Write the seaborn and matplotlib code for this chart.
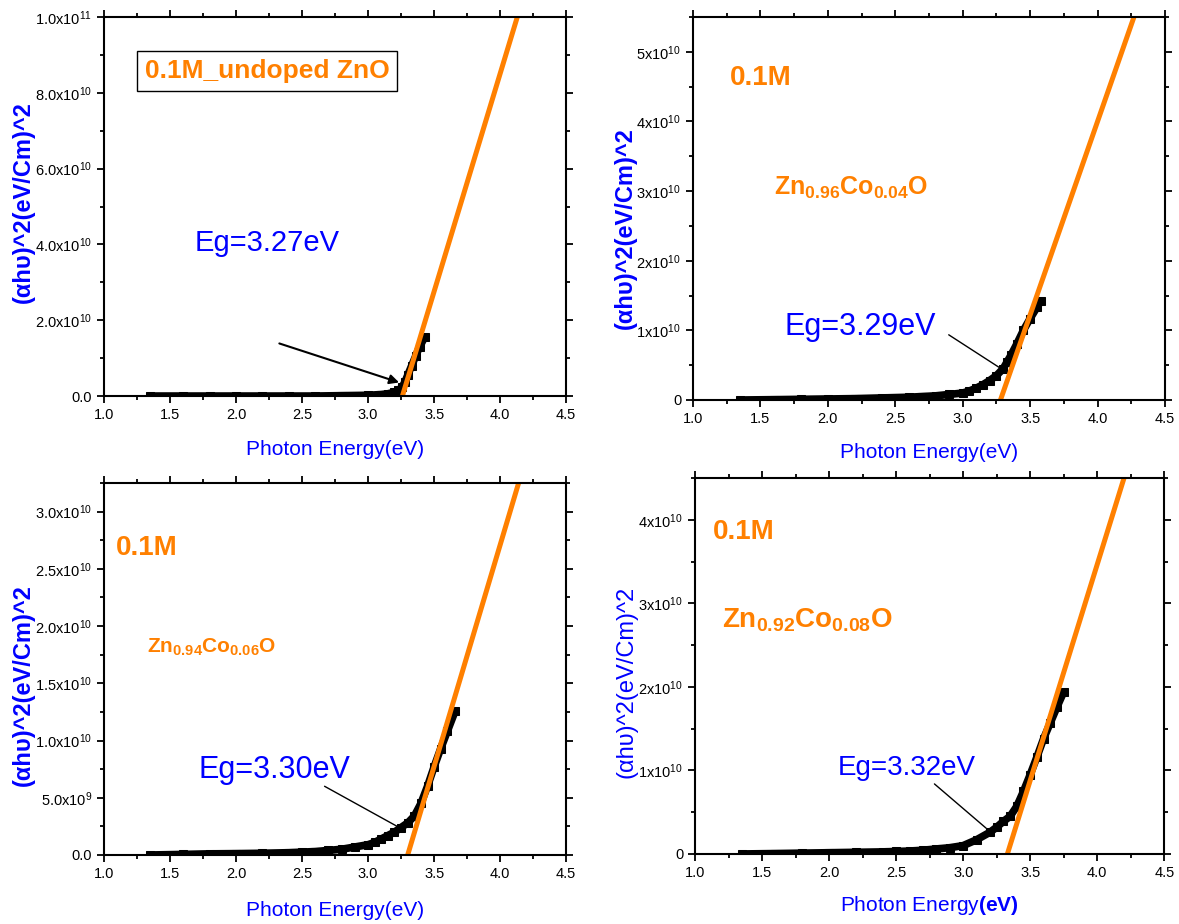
import numpy as np
import matplotlib
matplotlib.use('Agg')
import matplotlib.pyplot as plt
import seaborn as sns
from matplotlib.ticker import AutoMinorLocator

# ---- data (y in units of 1e10) ----
x_undoped = [1.35, 1.6, 1.8, 2.0, 2.2, 2.4, 2.6, 2.8, 3.0, 3.1, 3.15, 3.2, 3.23, 3.26, 3.28, 3.30, 3.33, 3.36, 3.39, 3.43]
y_undoped = [0.0, 0.0, 0.0, 0.0, 0.0, 0.0, 0.0, 0.01, 0.02, 0.04, 0.06, 0.1, 0.15, 0.25, 0.38, 0.55, 0.8, 1.05, 1.3, 1.56]

x_co04 = [1.35, 1.6, 1.8, 2.0, 2.2, 2.4, 2.6, 2.7, 2.8, 2.9, 3.0, 3.05, 3.1, 3.15, 3.2, 3.25, 3.3, 3.33, 3.36, 3.40, 3.45, 3.50, 3.55, 3.58]
y_co04 = [0.0, 0.005, 0.01, 0.015, 0.02, 0.03, 0.04, 0.05, 0.06, 0.08, 0.1, 0.13, 0.17, 0.22, 0.28, 0.35, 0.45, 0.55, 0.65, 0.8, 1.0, 1.17, 1.33, 1.42]

x_co06 = [1.35, 1.6, 1.8, 2.0, 2.2, 2.4, 2.5, 2.6, 2.7, 2.8, 2.9, 3.0, 3.05, 3.1, 3.15, 3.2, 3.25, 3.3, 3.35, 3.4, 3.45, 3.5, 3.55, 3.6, 3.66]
y_co06 = [0.0, 0.005, 0.01, 0.012, 0.015, 0.02, 0.025, 0.03, 0.04, 0.05, 0.07, 0.09, 0.11, 0.14, 0.17, 0.2, 0.24, 0.28, 0.34, 0.45, 0.6, 0.77, 0.93, 1.08, 1.26]

x_co08 = [1.35, 1.6, 1.8, 2.0, 2.2, 2.4, 2.5, 2.6, 2.7, 2.8, 2.9, 3.0, 3.1, 3.2, 3.25, 3.3, 3.35, 3.4, 3.45, 3.5, 3.55, 3.6, 3.65, 3.7, 3.75]
y_co08 = [0.0, 0.005, 0.01, 0.015, 0.02, 0.025, 0.03, 0.035, 0.045, 0.06, 0.075, 0.1, 0.17, 0.26, 0.32, 0.39, 0.45, 0.57, 0.75, 0.95, 1.16, 1.38, 1.57, 1.76, 1.94]

# linear fits (Tauc extrapolation), endpoints
fit_x_undoped = [3.26, 4.13]
fit_y_undoped = [0.0, 10.0]
fit_x_co04 = [3.28, 4.27]
fit_y_co04 = [0.0, 5.5]
fit_x_co06 = [3.30, 4.14]
fit_y_co06 = [0.0, 3.25]
fit_x_co08 = [3.33, 4.20]
fit_y_co08 = [0.0, 4.5]

yticks_undoped = [0, 2, 4, 6, 8, 10]
ylabels_undoped = ['0.0', '2.0x10$^{10}$', '4.0x10$^{10}$', '6.0x10$^{10}$', '8.0x10$^{10}$', '1.0x10$^{11}$']
yticks_co04 = [0, 1, 2, 3, 4, 5]
ylabels_co04 = ['0', '1x10$^{10}$', '2x10$^{10}$', '3x10$^{10}$', '4x10$^{10}$', '5x10$^{10}$']
yticks_co06 = [0, 0.5, 1.0, 1.5, 2.0, 2.5, 3.0]
ylabels_co06 = ['0.0', '5.0x10$^{9}$', '1.0x10$^{10}$', '1.5x10$^{10}$', '2.0x10$^{10}$', '2.5x10$^{10}$', '3.0x10$^{10}$']
yticks_co08 = [0, 1, 2, 3, 4]
ylabels_co08 = ['0', '1x10$^{10}$', '2x10$^{10}$', '3x10$^{10}$', '4x10$^{10}$']

xticks = [1.0, 1.5, 2.0, 2.5, 3.0, 3.5, 4.0, 4.5]
xlabels = ['1.0', '1.5', '2.0', '2.5', '3.0', '3.5', '4.0', '4.5']

ORANGE = '#FF8000'
BLUE = '#0000FF'
SCALE = 1e10

sns.set_theme(style='ticks')
plt.rcParams['font.family'] = ['Liberation Sans', 'DejaVu Sans']
plt.rcParams['mathtext.fontset'] = 'custom'
plt.rcParams['mathtext.rm'] = 'Liberation Sans'
plt.rcParams['mathtext.it'] = 'Liberation Sans:italic'
plt.rcParams['mathtext.bf'] = 'Liberation Sans:bold'

fig = plt.figure(figsize=(11.79, 9.24), dpi=100)
ax1 = fig.add_axes([0.0882, 0.5714, 0.392, 0.4102])
ax2 = fig.add_axes([0.5878, 0.5671, 0.4003, 0.4145])
ax3 = fig.add_axes([0.0882, 0.0747, 0.392, 0.4026])
ax4 = fig.add_axes([0.5895, 0.0758, 0.398, 0.4069])


def draw_panel(ax, xs, ys, fx, fy, ymax, yticks, ylabels):
    sns.lineplot(x=xs, y=np.array(ys) * SCALE, ax=ax, color='black', lw=5.5,
                 marker='s', markersize=6, markeredgecolor='black', sort=False, estimator=None)
    sns.lineplot(x=fx, y=np.array(fy) * SCALE, ax=ax, color=ORANGE, lw=3.6, sort=False, estimator=None)
    ax.set_xlim(1.0, 4.5)
    ax.set_ylim(0, ymax * SCALE)
    ax.set_xticks(xticks)
    ax.set_xticklabels(xlabels)
    ax.set_yticks(np.array(yticks) * SCALE)
    ax.set_yticklabels(ylabels)
    ax.xaxis.set_minor_locator(AutoMinorLocator(2))
    ax.yaxis.set_minor_locator(AutoMinorLocator(2))
    ax.tick_params(axis='both', which='both', direction='out', top=True, right=True,
                   labelsize=10.5, colors='black', width=1.3)
    ax.tick_params(axis='both', which='major', length=5)
    ax.tick_params(axis='both', which='minor', length=3)
    for s in ax.spines.values():
        s.set_linewidth(1.5)
        s.set_color('black')
    ax.set_xlabel('Photon Energy(eV)', color=BLUE, fontsize=15)
    ax.xaxis.label.set_va('center')


draw_panel(ax1, x_undoped, y_undoped, fit_x_undoped, fit_y_undoped, 10.0, yticks_undoped, ylabels_undoped)
draw_panel(ax2, x_co04, y_co04, fit_x_co04, fit_y_co04, 5.5, yticks_co04, ylabels_co04)
draw_panel(ax3, x_co06, y_co06, fit_x_co06, fit_y_co06, 3.25, yticks_co06, ylabels_co06)
draw_panel(ax4, x_co08, y_co08, fit_x_co08, fit_y_co08, 4.5, yticks_co08, ylabels_co08)

ylab = '(\u03b1h\u03c5)^2(eV/Cm)^2'
ax1.set_ylabel(ylab, color=BLUE, fontsize=17, fontweight='bold')
ax2.set_ylabel(ylab, color=BLUE, fontsize=17, fontweight='bold')
ax3.set_ylabel(ylab, color=BLUE, fontsize=17, fontweight='bold')
ax4.set_ylabel(ylab, color=BLUE, fontsize=17)
for ax in (ax1, ax2, ax3, ax4):
    ax.yaxis.label.set_va('center')
ax1.yaxis.set_label_coords(-0.175, 0.512)
ax2.yaxis.set_label_coords(-0.144, 0.449)
ax3.yaxis.set_label_coords(-0.175, 0.457)
ax4.yaxis.set_label_coords(-0.145, 0.457)

ax1.xaxis.set_label_coords(0.5, -0.140)
ax2.xaxis.set_label_coords(0.5, -0.136)
ax3.xaxis.set_label_coords(0.5, -0.148)
ax4.set_xlabel('Photon Energy' + r'$\mathbf{(eV)}$', color=BLUE, fontsize=15)
ax4.xaxis.label.set_va('center')
ax4.xaxis.set_label_coords(0.5, -0.136)

# panel 1 annotations
ax1.text(2.235, 8.58e10, '0.1M_undoped ZnO', color=ORANGE, fontsize=19, fontweight='bold',
         ha='center', va='center',
         bbox=dict(boxstyle='square,pad=0.3', facecolor='white', edgecolor='black', lw=1))
ax1.text(1.69, 4.04e10, 'Eg=3.27eV', color=BLUE, fontsize=21, ha='left', va='center')
ax1.annotate('', xy=(3.255, 0.335e10), xytext=(2.308, 1.41e10),
             arrowprops=dict(arrowstyle='-|>', color='black', lw=1.5, mutation_scale=14))

# panel 2 annotations
ax2.text(1.504, 4.63e10, '0.1M', color=ORANGE, fontsize=20, fontweight='bold', ha='center', va='center')
ax2.text(2.171, 3.05e10, r'$\mathbf{Zn_{0.96}Co_{0.04}O}$', color=ORANGE, fontsize=18, ha='center', va='center')
ax2.text(2.238, 1.05e10, 'Eg=3.29eV', color=BLUE, fontsize=22, ha='center', va='center')
ax2.annotate('', xy=(3.30, 0.431e10), xytext=(2.879, 0.958e10),
             arrowprops=dict(arrowstyle='-', color='black', lw=1))

# panel 3 annotations
ax3.text(1.322, 2.686e10, '0.1M', color=ORANGE, fontsize=20, fontweight='bold', ha='center', va='center')
ax3.text(1.818, 1.81e10, r'$\mathbf{Zn_{0.94}Co_{0.06}O}$', color=ORANGE, fontsize=15, ha='center', va='center')
ax3.text(2.292, 0.744e10, 'Eg=3.30eV', color=BLUE, fontsize=22, ha='center', va='center')
ax3.annotate('', xy=(3.242, 0.236e10), xytext=(2.652, 0.612e10),
             arrowprops=dict(arrowstyle='-', color='black', lw=1))

# panel 4 annotations
ax4.text(1.362, 3.856e10, '0.1M', color=ORANGE, fontsize=20, fontweight='bold', ha='center', va='center')
ax4.text(1.836, 2.80e10, r'$\mathbf{Zn_{0.92}Co_{0.08}O}$', color=ORANGE, fontsize=20, ha='center', va='center')
ax4.text(2.578, 1.03e10, 'Eg=3.32eV', color=BLUE, fontsize=20, ha='center', va='center')
ax4.annotate('', xy=(3.187, 0.287e10), xytext=(2.77, 0.86e10),
             arrowprops=dict(arrowstyle='-', color='black', lw=1))

fig.savefig('out.png', dpi=100)
